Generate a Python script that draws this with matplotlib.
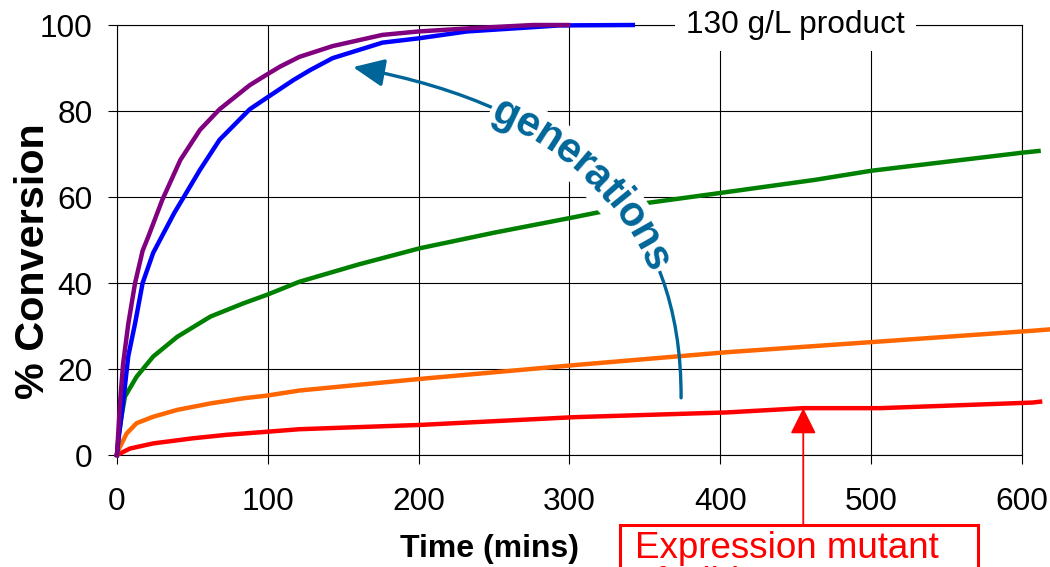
import numpy as np
import matplotlib
matplotlib.use('Agg')
import matplotlib.pyplot as plt
from matplotlib.patches import FancyArrowPatch, Rectangle
from matplotlib.path import Path
from matplotlib.font_manager import FontProperties

plt.rcParams['font.family'] = ['Liberation Sans', 'DejaVu Sans']

# time (mins) and % conversion, one pair of lists per generation
red_t = [0, 8.6, 24, 50.6, 72.7, 99, 121, 201, 303, 404, 455, 506, 607, 612]
red_v = [0, 1.5, 2.7, 3.9, 4.7, 5.4, 6.0, 7.0, 8.8, 9.9, 10.9, 10.9, 12.2, 12.4]

orange_t = [0, 1, 6.4, 13, 24, 40, 62, 84, 99, 121, 201, 303, 404, 506, 607, 618]
orange_v = [0, 1.2, 5.0, 7.4, 8.9, 10.5, 12.0, 13.2, 13.8, 15.0, 17.7, 20.9, 23.9, 26.4, 28.9, 29.2]

green_t = [0, 1, 3, 5.3, 13, 24, 40, 62, 84, 99, 121, 160, 201, 250, 303, 347, 395, 463, 500, 600, 611]
green_v = [0, 4.3, 8.9, 13.6, 18.2, 22.9, 27.5, 32.2, 35.3, 37.2, 40.3, 44.3, 48.1, 51.7, 55.3, 58.4, 60.7, 64.0, 66.1, 70.3, 70.7]

blue_t = [0, 0.7, 4, 7.5, 12, 17, 24, 30, 38, 46, 55, 68, 88, 99, 117, 128, 143, 176, 200, 232, 276, 293, 342]
blue_v = [0, 2.7, 12, 23, 30.6, 40, 47, 51, 56.3, 61, 66.3, 73.3, 80.4, 83, 87.2, 89.5, 92.3, 95.9, 96.9, 98.5, 99.5, 99.9, 100]

purple_t = [0, 2, 4, 7.5, 12, 17, 21, 30, 42, 55, 68, 88, 99, 108, 121, 143, 176, 200, 232, 276, 299]
purple_v = [0, 12, 21, 30.5, 40, 47.5, 51, 59.3, 68.6, 75.6, 80.4, 86, 88.4, 90.3, 92.6, 95.1, 97.7, 98.5, 99.2, 100, 100]

series = [(red_t, red_v, '#FF0000'),
          (orange_t, orange_v, '#FF6600'),
          (green_t, green_v, '#008000'),
          (blue_t, blue_v, '#0000FF'),
          (purple_t, purple_v, '#800080')]

x_ticks = [0, 100, 200, 300, 400, 500, 600]
y_ticks = [0, 20, 40, 60, 80, 100]

# annotation anchors (data units)
product_label = (450, 100)
mutant_point = (455, 10.9)
mutant_base = -16.3
gen_tail = (374, 13.3)
gen_ctrl = (375, 76.2)
gen_head = (156.5, 90.2)
gen_first = (255.3, 78.4)
gen_last = (350.8, 44.9)
gen_word = 'generations'
gen_color = '#006699'

fig = plt.figure(figsize=(10.5, 5.67), dpi=100)
ax = fig.add_axes([0.1114, 0.1975, 0.8619, 0.7584])
ax.set_xlim(0, 600)
ax.set_ylim(0, 100)
ax.set_xticks(x_ticks)
ax.set_yticks(y_ticks)
ax.grid(True, color='black', lw=0.8)
ax.set_axisbelow(True)
ax.tick_params(direction='out', length=6.5, width=0.8, labelsize=22.8, colors='black')
ax.tick_params(axis='x', pad=16.5)
ax.tick_params(axis='y', pad=11)
for sp in ax.spines.values():
    sp.set_linewidth(0.8)

for t, v, c in series:
    ax.plot(t, v, color=c, lw=3.2, clip_on=False, zorder=3)

ax.set_xlabel('Time (mins)', fontsize=23, fontweight='bold')
ax.xaxis.set_label_coords(0.412, -0.183)
ax.set_ylabel('% Conversion', fontsize=29.8, fontweight='bold')
ax.yaxis.set_label_coords(-0.072, 0.452)

ax.text(product_label[0], product_label[1], '130 g/L product', fontsize=22.8,
        ha='center', va='center', zorder=6, clip_on=False,
        bbox=dict(fc='white', ec='none', pad=8))

# red callout
ax.annotate('', xy=mutant_point, xytext=(mutant_point[0], mutant_base),
            annotation_clip=False,
            arrowprops=dict(arrowstyle='-|>,head_length=0.8,head_width=0.4',
                            mutation_scale=20, color='#FF0000', lw=1.3,
                            shrinkA=0, shrinkB=0))
fig.patches.append(Rectangle((620 / 1050, -0.1), 358 / 1050, 42 / 567 + 0.1,
                             transform=fig.transFigure, fill=False,
                             edgecolor='#FF0000', lw=2.2))
fig.text(635 / 1050, 1 - 531 / 567, 'Expression mutant\nof wild type',
         fontsize=26.5, color='#FF0000', ha='left', va='top', linespacing=1.0)

# curved "generations" arrow
P0, P1, P2 = np.array(gen_tail), np.array(gen_ctrl), np.array(gen_head)
arrow = FancyArrowPatch(path=Path([P0, P1, P2], [Path.MOVETO, Path.CURVE3, Path.CURVE3]),
                        arrowstyle='-|>,head_length=1.9,head_width=0.85',
                        mutation_scale=10, color=gen_color, lw=2.4,
                        transform=ax.transData, zorder=4, clip_on=False)
ax.add_patch(arrow)

s = np.linspace(0, 1, 800)[:, None]
curve = (1 - s) ** 2 * P0 + 2 * (1 - s) * s * P1 + s ** 2 * P2
disp = ax.transData.transform(curve)[::-1]
seg = np.hypot(np.diff(disp[:, 0]), np.diff(disp[:, 1]))
arc = np.concatenate([[0], np.cumsum(seg)])


def arc_pos(pt):
    d = ax.transData.transform(pt)
    return arc[np.argmin(np.hypot(disp[:, 0] - d[0], disp[:, 1] - d[1]))]


a_mid = 0.5 * (arc_pos(gen_first) + arc_pos(gen_last))
fp = FontProperties(family=['Liberation Sans', 'DejaVu Sans'], weight='bold', size=30)
renderer = fig.canvas.get_renderer()
widths = [0.0] + [renderer.get_text_width_height_descent(gen_word[:i], fp, ismath=False)[0]
                  for i in range(1, len(gen_word) + 1)]
total = widths[-1]
inv = ax.transData.inverted()
for i, ch in enumerate(gen_word):
    a = a_mid - total / 2 + 0.5 * (widths[i] + widths[i + 1])
    x = np.interp(a, arc, disp[:, 0])
    y = np.interp(a, arc, disp[:, 1])
    k = np.clip(np.searchsorted(arc, a), 1, len(arc) - 1)
    ang = np.degrees(np.arctan2(disp[k, 1] - disp[k - 1, 1], disp[k, 0] - disp[k - 1, 0]))
    xd, yd = inv.transform((x, y))
    for col, z, bb in [('none', 5, dict(fc='white', ec='none', pad=1.5)), (gen_color, 7, None)]:
        ax.text(xd, yd, ch, fontproperties=fp, color=col, rotation=ang,
                rotation_mode='anchor', ha='center', va='center', zorder=z,
                bbox=bb, clip_on=False)

fig.savefig('out.png', dpi=100)
